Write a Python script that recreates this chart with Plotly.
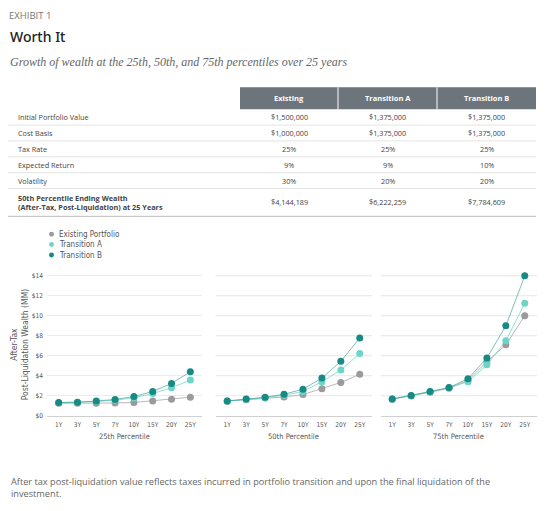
import plotly.graph_objects as go

# The page body has an 8px default margin, so the figure is sized to fill the rest of the window
OFF = 8
W, H = 560 - OFF, 511 - OFF

# ---------------- data ----------------
categories = ["1Y", "3Y", "5Y", "7Y", "10Y", "15Y", "20Y", "25Y"]
panel_titles = ["25th Percentile", "50th Percentile", "75th Percentile"]
series_names = ["Existing Portfolio", "Transition A", "Transition B"]

p25_existing = [1.25, 1.25, 1.25, 1.27, 1.33, 1.48, 1.65, 1.85]
p25_trans_a = [1.30, 1.33, 1.42, 1.55, 1.80, 2.22, 2.80, 3.57]
p25_trans_b = [1.33, 1.36, 1.47, 1.63, 1.92, 2.43, 3.23, 4.40]

p50_existing = [1.45, 1.60, 1.78, 1.88, 2.12, 2.69, 3.33, 4.14]
p50_trans_a = [1.48, 1.65, 1.80, 2.05, 2.42, 3.40, 4.58, 6.22]
p50_trans_b = [1.48, 1.68, 1.85, 2.15, 2.66, 3.77, 5.45, 7.78]

p75_existing = [1.65, 1.98, 2.35, 2.75, 3.55, 5.40, 7.10, 10.00]
p75_trans_a = [1.67, 2.00, 2.40, 2.80, 3.40, 5.10, 7.50, 11.25]
p75_trans_b = [1.68, 2.02, 2.42, 2.82, 3.70, 5.78, 9.00, 14.00]

y_tickvals = [0, 2, 4, 6, 8, 10, 12, 14]
y_ticktext = ["$0", "$2", "$4", "$6", "$8", "$10", "$12", "$14"]

table_header = ["Existing", "Transition A", "Transition B"]
table_labels = ["Initial Portfolio Value", "Cost Basis", "Tax Rate", "Expected Return", "Volatility",
                "<b>50th Percentile Ending Wealth<br>(After-Tax, Post-Liquidation) at 25 Years</b>"]
table_existing = ["$1,500,000", "$1,000,000", "25%", "9%", "30%", "$4,144,189"]
table_trans_a = ["$1,375,000", "$1,375,000", "25%", "9%", "20%", "$6,222,259"]
table_trans_b = ["$1,375,000", "$1,375,000", "25%", "10%", "20%", "$7,784,609"]

footnote = ("After tax post-liquidation value reflects taxes incurred in portfolio transition and upon the final liquidation of the"
            "<br>investment.")

# ---------------- styles ----------------
colors = ["#9b9b9b", "#6dd5c7", "#178a84"]
line_colors = ["rgba(155,155,155,0.7)", "rgba(109,213,199,0.75)", "rgba(23,138,132,0.55)"]
NARROW = "Liberation Sans Narrow, DejaVu Sans Condensed, Arial Narrow, sans-serif"
SANS = "Open Sans, Lato, Noto Sans, sans-serif"


def px(xp):  # page pixel -> paper x
    return (xp - OFF) / W


def py(yp):  # page pixel -> paper y
    return 1 - (yp - OFF) / H


fig = go.Figure()

# ---------------- table (drawn from the arrays) ----------------
col_edges = [240, 338, 437, 536]
col_centers = [(col_edges[i] + col_edges[i + 1]) / 2 for i in range(3)]
header_top, header_bot = 88, 110
row_bounds = [110, 126, 142, 158, 174, 190, 218]

fig.add_shape(type="rect", xref="paper", yref="paper", x0=px(col_edges[0]), x1=px(col_edges[-1]),
              y0=py(header_bot), y1=py(header_top), fillcolor="#6c757c", line=dict(width=0))
for xe in col_edges[1:-1]:
    fig.add_shape(type="line", xref="paper", yref="paper", x0=px(xe), x1=px(xe),
                  y0=py(header_bot), y1=py(header_top), line=dict(color="white", width=1))
for j, h in enumerate(table_header):
    fig.add_annotation(xref="paper", yref="paper", x=px(col_centers[j]), y=py((header_top + header_bot) / 2),
                       text=f"<b>{h}</b>", showarrow=False, xanchor="center", yanchor="middle",
                       font=dict(family=SANS, size=7.5, color="white"))

for k, yb in enumerate(row_bounds[1:]):
    last = k == len(row_bounds) - 2
    fig.add_shape(type="line", xref="paper", yref="paper", x0=px(8), x1=px(536),
                  y0=py(yb), y1=py(yb),
                  line=dict(color="#bcbcbc" if last else "#e4e4e4", width=1))

columns = [table_existing, table_trans_a, table_trans_b]
for r, label in enumerate(table_labels):
    yc = (row_bounds[r] + row_bounds[r + 1]) / 2
    fig.add_annotation(xref="paper", yref="paper", x=px(16), y=py(yc), text=label, showarrow=False,
                       xanchor="left", yanchor="middle", align="left",
                       font=dict(family=SANS, size=7.3, color="#444"))
    for j, col in enumerate(columns):
        fig.add_annotation(xref="paper", yref="paper", x=px(col_centers[j]), y=py(yc), text=col[r],
                           showarrow=False, xanchor="center", yanchor="middle",
                           font=dict(family=SANS, size=7.3, color="#444"))

# ---------------- charts ----------------
panels = [
    [p25_existing, p25_trans_a, p25_trans_b],
    [p50_existing, p50_trans_a, p50_trans_b],
    [p75_existing, p75_trans_a, p75_trans_b],
]
x_domains = [[px(47), px(202)], [px(215.5), px(371.5)], [px(380.5), px(536.5)]]
y_domain = [py(419), py(419 - 14.6 * 10.07)]

for i, panel in enumerate(panels):
    xa = "x" if i == 0 else f"x{i+1}"
    for s, vals in enumerate(panel):
        fig.add_trace(go.Scatter(
            x=categories, y=vals, xaxis=xa, yaxis="y",
            mode="lines+markers", name=series_names[s], showlegend=False,
            line=dict(color=line_colors[s], width=1),
            marker=dict(color=colors[s], size=7),
        ))
    key = "xaxis" if i == 0 else f"xaxis{i+1}"
    fig.layout[key] = dict(
        domain=x_domains[i], anchor="y", type="category",
        categoryorder="array", categoryarray=categories,
        range=[-0.62, 7.62], showgrid=False, zeroline=False,
        showline=True, linecolor="#d0d0d0", linewidth=1,
        ticks="", ticklabelstandoff=2,
        tickfont=dict(family=NARROW, size=6.5, color="#555"),
    )
    fig.add_annotation(xref=f"{xa} domain", yref="paper", x=0.5, y=py(440),
                       text=panel_titles[i], showarrow=False, yanchor="middle",
                       font=dict(family=NARROW, size=7.5, color="#555"))

fig.update_layout(
    yaxis=dict(domain=y_domain, range=[0, 14.6], tickvals=y_tickvals, ticktext=y_ticktext,
               showgrid=True, gridcolor="#ececec", gridwidth=1, zeroline=False,
               showline=False, ticks="", anchor="x", ticklabelstandoff=3,
               tickfont=dict(family=NARROW, size=6.5, color="#555")),
)
# gridlines for panels 2 and 3 (same y values)
for i in (1, 2):
    xa = f"x{i+1}"
    for v in y_tickvals[1:]:
        fig.add_shape(type="line", xref=f"{xa} domain", yref="y", x0=0, x1=1,
                      y0=v, y1=v, line=dict(color="#ececec", width=1), layer="below")

# y-axis title
fig.add_annotation(xref="paper", yref="paper", x=px(19), y=py(347), xanchor="center", yanchor="middle",
                   text="After-Tax<br>Post-Liquidation Wealth (MM)", textangle=-90,
                   showarrow=False, font=dict(family=NARROW, size=8.5, color="#555"))

# legend (manual)
for s, name in enumerate(series_names):
    yc = 236 + s * 10.5
    fig.add_shape(type="circle", xref="paper", yref="paper",
                  x0=px(49), x1=px(54), y0=py(yc + 2.5), y1=py(yc - 2.5),
                  fillcolor=colors[s], line=dict(width=0))
    fig.add_annotation(xref="paper", yref="paper", x=px(57), y=py(yc), xanchor="left",
                       yanchor="middle", text=name, showarrow=False,
                       font=dict(family=NARROW, size=8, color="#555"))

# ---------------- titles ----------------
fig.add_annotation(xref="paper", yref="paper", x=px(8), y=py(8), xanchor="left", yanchor="top",
                   text="EXHIBIT 1", showarrow=False, borderpad=0,
                   font=dict(family=SANS, size=9.5, color="#777"))
fig.add_annotation(xref="paper", yref="paper", x=px(8), y=py(37), xanchor="left", yanchor="middle",
                   text="Worth It", showarrow=False,
                   font=dict(family="Noto Sans, sans-serif", size=14, color="#222", weight=500))
fig.add_annotation(xref="paper", yref="paper", x=px(8), y=py(62), xanchor="left", yanchor="middle",
                   text="<i>Growth of wealth at the 25th, 50th, and 75th percentiles over 25 years</i>",
                   showarrow=False,
                   font=dict(family="Liberation Serif, DejaVu Serif, serif", size=12, color="#666"))
fig.add_annotation(xref="paper", yref="paper", x=px(9), y=py(477), xanchor="left", yanchor="top",
                   text=footnote, showarrow=False, align="left",
                   font=dict(family=SANS, size=9.2, color="#666"))

fig.update_layout(
    width=W, height=H, margin=dict(l=0, r=0, t=0, b=0),
    paper_bgcolor="white", plot_bgcolor="white", showlegend=False,
)

fig.write_html("out.html")
